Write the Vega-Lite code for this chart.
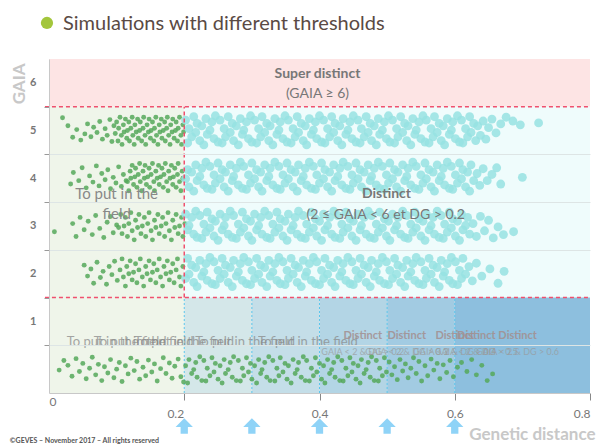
{
"$schema": "https://vega.github.io/schema/vega-lite/v6.json",
"width": 541, "height": 334,
"autosize": "none",
"padding": {"left": 49, "top": 59, "right": 7, "bottom": 51},
"background": "white",
"config": {"view": {"stroke": null}, "font": "Lato"},
"datasets": {
"regions": [
{"x": 0, "x2": 0.8, "y": 5.5, "y2": 6.5, "r": "pink"},
{"x": 0, "x2": 0.2, "y": -0.5, "y2": 5.5, "r": "green"},
{"x": 0.2, "x2": 0.8, "y": 1.5, "y2": 5.5, "r": "cyan"},
{"x": 0.2, "x2": 0.3, "y": -0.5, "y2": 1.5, "r": "b1"},
{"x": 0.3, "x2": 0.4, "y": -0.5, "y2": 1.5, "r": "b2"},
{"x": 0.4, "x2": 0.5, "y": -0.5, "y2": 1.5, "r": "b3"},
{"x": 0.5, "x2": 0.6, "y": -0.5, "y2": 1.5, "r": "b4"},
{"x": 0.6, "x2": 0.8, "y": -0.5, "y2": 1.5, "r": "b5"}
],
"cyan": [
{"x":0.202,"y":5.22},{"x":0.205,"y":4.74},{"x":0.207,"y":5.04},{"x":0.211,"y":4.87},{"x":0.214,"y":5.29},{"x":0.217,"y":4.96},{"x":0.219,"y":5.15},{"x":0.223,"y":4.79},{"x":0.226,"y":5.10},{"x":0.229,"y":4.70},{"x":0.232,"y":5.25},{"x":0.234,"y":4.92},{"x":0.238,"y":5.01},{"x":0.241,"y":5.18},{"x":0.244,"y":4.83},{"x":0.246,"y":5.31},{"x":0.250,"y":4.76},
{"x":0.253,"y":5.22},{"x":0.256,"y":4.74},{"x":0.259,"y":5.04},{"x":0.261,"y":4.87},{"x":0.265,"y":5.29},{"x":0.268,"y":4.96},{"x":0.271,"y":5.15},{"x":0.273,"y":4.79},{"x":0.277,"y":5.10},{"x":0.280,"y":4.70},{"x":0.283,"y":5.25},{"x":0.286,"y":4.92},{"x":0.288,"y":5.01},{"x":0.292,"y":5.18},{"x":0.295,"y":4.83},{"x":0.298,"y":5.31},{"x":0.300,"y":4.76},
{"x":0.304,"y":5.22},{"x":0.307,"y":4.74},{"x":0.310,"y":5.04},{"x":0.313,"y":4.87},{"x":0.315,"y":5.29},{"x":0.319,"y":4.96},{"x":0.322,"y":5.15},{"x":0.325,"y":4.79},{"x":0.327,"y":5.10},{"x":0.331,"y":4.70},{"x":0.334,"y":5.25},{"x":0.337,"y":4.92},{"x":0.340,"y":5.01},{"x":0.342,"y":5.18},{"x":0.346,"y":4.83},{"x":0.349,"y":5.31},{"x":0.352,"y":4.76},
{"x":0.354,"y":5.22},{"x":0.358,"y":4.74},{"x":0.361,"y":5.04},{"x":0.364,"y":4.87},{"x":0.367,"y":5.29},{"x":0.369,"y":4.96},{"x":0.373,"y":5.15},{"x":0.376,"y":4.79},{"x":0.379,"y":5.10},{"x":0.381,"y":4.70},{"x":0.385,"y":5.25},{"x":0.388,"y":4.92},{"x":0.391,"y":5.01},{"x":0.394,"y":5.18},{"x":0.396,"y":4.83},{"x":0.400,"y":5.31},{"x":0.403,"y":4.76},
{"x":0.406,"y":5.22},{"x":0.408,"y":4.74},{"x":0.412,"y":5.04},{"x":0.415,"y":4.87},{"x":0.418,"y":5.29},{"x":0.421,"y":4.96},{"x":0.423,"y":5.15},{"x":0.427,"y":4.79},{"x":0.430,"y":5.10},{"x":0.433,"y":4.70},{"x":0.435,"y":5.25},{"x":0.439,"y":4.92},{"x":0.442,"y":5.01},{"x":0.445,"y":5.18},{"x":0.448,"y":4.83},{"x":0.450,"y":5.31},{"x":0.454,"y":4.76},
{"x":0.457,"y":5.22},{"x":0.460,"y":4.74},{"x":0.462,"y":5.04},{"x":0.466,"y":4.87},{"x":0.469,"y":5.29},{"x":0.472,"y":4.96},{"x":0.475,"y":5.15},{"x":0.477,"y":4.79},{"x":0.481,"y":5.10},{"x":0.484,"y":4.70},{"x":0.487,"y":5.25},{"x":0.489,"y":4.92},{"x":0.493,"y":5.01},{"x":0.496,"y":5.18},{"x":0.499,"y":4.83},{"x":0.502,"y":5.31},{"x":0.504,"y":4.76},
{"x":0.508,"y":5.22},{"x":0.511,"y":4.74},{"x":0.514,"y":5.04},{"x":0.516,"y":4.87},{"x":0.520,"y":5.29},{"x":0.523,"y":4.96},{"x":0.526,"y":5.15},{"x":0.529,"y":4.79},{"x":0.531,"y":5.10},{"x":0.535,"y":4.70},{"x":0.538,"y":5.25},{"x":0.541,"y":4.92},{"x":0.543,"y":5.01},{"x":0.547,"y":5.18},{"x":0.550,"y":4.83},{"x":0.553,"y":5.31},{"x":0.556,"y":4.76},
{"x":0.558,"y":5.22},{"x":0.562,"y":4.74},{"x":0.565,"y":5.04},{"x":0.568,"y":4.87},{"x":0.570,"y":5.29},{"x":0.574,"y":4.96},{"x":0.577,"y":5.15},{"x":0.580,"y":4.79},{"x":0.583,"y":5.10},{"x":0.585,"y":4.70},{"x":0.589,"y":5.25},{"x":0.592,"y":4.92},{"x":0.595,"y":5.01},{"x":0.597,"y":5.18},{"x":0.601,"y":4.83},{"x":0.604,"y":5.31},{"x":0.607,"y":4.76},
{"x":0.610,"y":5.22},{"x":0.612,"y":4.74},{"x":0.616,"y":5.04},{"x":0.619,"y":4.87},{"x":0.622,"y":5.29},{"x":0.624,"y":4.96},{"x":0.628,"y":5.15},{"x":0.631,"y":4.79},{"x":0.634,"y":5.10},
{"x":0.638,"y":4.90},{"x":0.642,"y":5.20},{"x":0.646,"y":4.82},{"x":0.650,"y":5.06},{"x":0.655,"y":5.24},{"x":0.661,"y":4.95},{"x":0.668,"y":5.14},{"x":0.676,"y":5.28},{"x":0.686,"y":5.20},{"x":0.697,"y":5.12},{"x":0.724,"y":5.16},

{"x":0.202,"y":3.99},{"x":0.205,"y":4.18},{"x":0.207,"y":3.82},{"x":0.211,"y":4.13},{"x":0.214,"y":3.73},{"x":0.217,"y":4.28},{"x":0.219,"y":3.95},{"x":0.223,"y":4.04},{"x":0.226,"y":4.21},{"x":0.229,"y":3.86},{"x":0.232,"y":4.34},{"x":0.234,"y":3.79},{"x":0.238,"y":4.25},{"x":0.241,"y":3.77},{"x":0.244,"y":4.07},{"x":0.246,"y":3.90},{"x":0.250,"y":4.32},
{"x":0.253,"y":3.99},{"x":0.256,"y":4.18},{"x":0.259,"y":3.82},{"x":0.261,"y":4.13},{"x":0.265,"y":3.73},{"x":0.268,"y":4.28},{"x":0.271,"y":3.95},{"x":0.273,"y":4.04},{"x":0.277,"y":4.21},{"x":0.280,"y":3.86},{"x":0.283,"y":4.34},{"x":0.286,"y":3.79},{"x":0.288,"y":4.25},{"x":0.292,"y":3.77},{"x":0.295,"y":4.07},{"x":0.298,"y":3.90},{"x":0.300,"y":4.32},
{"x":0.304,"y":3.99},{"x":0.307,"y":4.18},{"x":0.310,"y":3.82},{"x":0.313,"y":4.13},{"x":0.315,"y":3.73},{"x":0.319,"y":4.28},{"x":0.322,"y":3.95},{"x":0.325,"y":4.04},{"x":0.327,"y":4.21},{"x":0.331,"y":3.86},{"x":0.334,"y":4.34},{"x":0.337,"y":3.79},{"x":0.340,"y":4.25},{"x":0.342,"y":3.77},{"x":0.346,"y":4.07},{"x":0.349,"y":3.90},{"x":0.352,"y":4.32},
{"x":0.354,"y":3.99},{"x":0.358,"y":4.18},{"x":0.361,"y":3.82},{"x":0.364,"y":4.13},{"x":0.367,"y":3.73},{"x":0.369,"y":4.28},{"x":0.373,"y":3.95},{"x":0.376,"y":4.04},{"x":0.379,"y":4.21},{"x":0.381,"y":3.86},{"x":0.385,"y":4.34},{"x":0.388,"y":3.79},{"x":0.391,"y":4.25},{"x":0.394,"y":3.77},{"x":0.396,"y":4.07},{"x":0.400,"y":3.90},{"x":0.403,"y":4.32},
{"x":0.406,"y":3.99},{"x":0.408,"y":4.18},{"x":0.412,"y":3.82},{"x":0.415,"y":4.13},{"x":0.418,"y":3.73},{"x":0.421,"y":4.28},{"x":0.423,"y":3.95},{"x":0.427,"y":4.04},{"x":0.430,"y":4.21},{"x":0.433,"y":3.86},{"x":0.435,"y":4.34},{"x":0.439,"y":3.79},{"x":0.442,"y":4.25},{"x":0.445,"y":3.77},{"x":0.448,"y":4.07},{"x":0.450,"y":3.90},{"x":0.454,"y":4.32},
{"x":0.457,"y":3.99},{"x":0.460,"y":4.18},{"x":0.462,"y":3.82},{"x":0.466,"y":4.13},{"x":0.469,"y":3.73},{"x":0.472,"y":4.28},{"x":0.475,"y":3.95},{"x":0.477,"y":4.04},{"x":0.481,"y":4.21},{"x":0.484,"y":3.86},{"x":0.487,"y":4.34},{"x":0.489,"y":3.79},{"x":0.493,"y":4.25},{"x":0.496,"y":3.77},{"x":0.499,"y":4.07},{"x":0.502,"y":3.90},{"x":0.504,"y":4.32},
{"x":0.508,"y":3.99},{"x":0.511,"y":4.18},{"x":0.514,"y":3.82},{"x":0.516,"y":4.13},{"x":0.520,"y":3.73},{"x":0.523,"y":4.28},{"x":0.526,"y":3.95},{"x":0.529,"y":4.04},{"x":0.531,"y":4.21},{"x":0.535,"y":3.86},{"x":0.538,"y":4.34},{"x":0.541,"y":3.79},{"x":0.543,"y":4.25},{"x":0.547,"y":3.77},{"x":0.550,"y":4.07},{"x":0.553,"y":3.90},{"x":0.556,"y":4.32},
{"x":0.558,"y":3.99},{"x":0.562,"y":4.18},{"x":0.565,"y":3.82},{"x":0.568,"y":4.13},{"x":0.570,"y":3.73},{"x":0.574,"y":4.28},{"x":0.577,"y":3.95},{"x":0.580,"y":4.04},{"x":0.583,"y":4.21},{"x":0.585,"y":3.86},{"x":0.589,"y":4.34},{"x":0.592,"y":3.79},{"x":0.595,"y":4.25},{"x":0.597,"y":3.77},{"x":0.601,"y":4.07},{"x":0.604,"y":3.90},{"x":0.607,"y":4.32},
{"x":0.610,"y":3.99},{"x":0.612,"y":4.18},{"x":0.616,"y":3.82},{"x":0.619,"y":4.13},{"x":0.622,"y":3.73},{"x":0.624,"y":4.28},{"x":0.628,"y":3.95},
{"x":0.633,"y":4.10},{"x":0.637,"y":3.85},{"x":0.642,"y":4.20},{"x":0.648,"y":3.95},{"x":0.655,"y":4.08},{"x":0.662,"y":4.22},{"x":0.668,"y":3.88},{"x":0.700,"y":4.02},

{"x":0.202,"y":3.25},{"x":0.205,"y":2.92},{"x":0.207,"y":3.01},{"x":0.211,"y":3.18},{"x":0.214,"y":2.83},{"x":0.217,"y":3.31},{"x":0.219,"y":2.76},{"x":0.223,"y":3.22},{"x":0.226,"y":2.74},{"x":0.229,"y":3.04},{"x":0.232,"y":2.87},{"x":0.234,"y":3.29},{"x":0.238,"y":2.96},{"x":0.241,"y":3.15},{"x":0.244,"y":2.79},{"x":0.246,"y":3.10},{"x":0.250,"y":2.70},
{"x":0.253,"y":3.25},{"x":0.256,"y":2.92},{"x":0.259,"y":3.01},{"x":0.261,"y":3.18},{"x":0.265,"y":2.83},{"x":0.268,"y":3.31},{"x":0.271,"y":2.76},{"x":0.273,"y":3.22},{"x":0.277,"y":2.74},{"x":0.280,"y":3.04},{"x":0.283,"y":2.87},{"x":0.286,"y":3.29},{"x":0.288,"y":2.96},{"x":0.292,"y":3.15},{"x":0.295,"y":2.79},{"x":0.298,"y":3.10},{"x":0.300,"y":2.70},
{"x":0.304,"y":3.25},{"x":0.307,"y":2.92},{"x":0.310,"y":3.01},{"x":0.313,"y":3.18},{"x":0.315,"y":2.83},{"x":0.319,"y":3.31},{"x":0.322,"y":2.76},{"x":0.325,"y":3.22},{"x":0.327,"y":2.74},{"x":0.331,"y":3.04},{"x":0.334,"y":2.87},{"x":0.337,"y":3.29},{"x":0.340,"y":2.96},{"x":0.342,"y":3.15},{"x":0.346,"y":2.79},{"x":0.349,"y":3.10},{"x":0.352,"y":2.70},
{"x":0.354,"y":3.25},{"x":0.358,"y":2.92},{"x":0.361,"y":3.01},{"x":0.364,"y":3.18},{"x":0.367,"y":2.83},{"x":0.369,"y":3.31},{"x":0.373,"y":2.76},{"x":0.376,"y":3.22},{"x":0.379,"y":2.74},{"x":0.381,"y":3.04},{"x":0.385,"y":2.87},{"x":0.388,"y":3.29},{"x":0.391,"y":2.96},{"x":0.394,"y":3.15},{"x":0.396,"y":2.79},{"x":0.400,"y":3.10},{"x":0.403,"y":2.70},
{"x":0.406,"y":3.25},{"x":0.408,"y":2.92},{"x":0.412,"y":3.01},{"x":0.415,"y":3.18},{"x":0.418,"y":2.83},{"x":0.421,"y":3.31},{"x":0.423,"y":2.76},{"x":0.427,"y":3.22},{"x":0.430,"y":2.74},{"x":0.433,"y":3.04},{"x":0.435,"y":2.87},{"x":0.439,"y":3.29},{"x":0.442,"y":2.96},{"x":0.445,"y":3.15},{"x":0.448,"y":2.79},{"x":0.450,"y":3.10},{"x":0.454,"y":2.70},
{"x":0.457,"y":3.25},{"x":0.460,"y":2.92},{"x":0.462,"y":3.01},{"x":0.466,"y":3.18},{"x":0.469,"y":2.83},{"x":0.472,"y":3.31},{"x":0.475,"y":2.76},{"x":0.477,"y":3.22},{"x":0.481,"y":2.74},{"x":0.484,"y":3.04},{"x":0.487,"y":2.87},{"x":0.489,"y":3.29},{"x":0.493,"y":2.96},{"x":0.496,"y":3.15},{"x":0.499,"y":2.79},{"x":0.502,"y":3.10},{"x":0.504,"y":2.70},
{"x":0.508,"y":3.25},{"x":0.511,"y":2.92},{"x":0.514,"y":3.01},{"x":0.516,"y":3.18},{"x":0.520,"y":2.83},{"x":0.523,"y":3.31},{"x":0.526,"y":2.76},{"x":0.529,"y":3.22},{"x":0.531,"y":2.74},{"x":0.535,"y":3.04},{"x":0.538,"y":2.87},{"x":0.541,"y":3.29},{"x":0.543,"y":2.96},{"x":0.547,"y":3.15},{"x":0.550,"y":2.79},{"x":0.553,"y":3.10},{"x":0.556,"y":2.70},
{"x":0.558,"y":3.25},{"x":0.562,"y":2.92},{"x":0.565,"y":3.01},{"x":0.568,"y":3.18},{"x":0.570,"y":2.83},{"x":0.574,"y":3.31},{"x":0.577,"y":2.76},{"x":0.580,"y":3.22},{"x":0.583,"y":2.74},{"x":0.585,"y":3.04},{"x":0.589,"y":2.87},{"x":0.592,"y":3.29},{"x":0.595,"y":2.96},{"x":0.597,"y":3.15},{"x":0.601,"y":2.79},{"x":0.604,"y":3.10},{"x":0.607,"y":2.70},
{"x":0.610,"y":3.25},{"x":0.612,"y":2.92},{"x":0.616,"y":3.01},{"x":0.619,"y":3.18},{"x":0.622,"y":2.83},
{"x":0.627,"y":3.05},{"x":0.632,"y":2.78},{"x":0.638,"y":3.20},{"x":0.644,"y":2.90},{"x":0.650,"y":3.12},{"x":0.657,"y":2.75},{"x":0.664,"y":2.98},{"x":0.672,"y":2.82},{"x":0.687,"y":2.88},

{"x":0.202,"y":1.90},{"x":0.205,"y":2.32},{"x":0.207,"y":1.99},{"x":0.211,"y":2.18},{"x":0.214,"y":1.82},{"x":0.217,"y":2.13},{"x":0.219,"y":1.73},{"x":0.223,"y":2.28},{"x":0.226,"y":1.95},{"x":0.229,"y":2.04},{"x":0.232,"y":2.21},{"x":0.234,"y":1.86},{"x":0.238,"y":2.34},{"x":0.241,"y":1.79},{"x":0.244,"y":2.25},{"x":0.246,"y":1.77},{"x":0.250,"y":2.07},
{"x":0.253,"y":1.90},{"x":0.256,"y":2.32},{"x":0.259,"y":1.99},{"x":0.261,"y":2.18},{"x":0.265,"y":1.82},{"x":0.268,"y":2.13},{"x":0.271,"y":1.73},{"x":0.273,"y":2.28},{"x":0.277,"y":1.95},{"x":0.280,"y":2.04},{"x":0.283,"y":2.21},{"x":0.286,"y":1.86},{"x":0.288,"y":2.34},{"x":0.292,"y":1.79},{"x":0.295,"y":2.25},{"x":0.298,"y":1.77},{"x":0.300,"y":2.07},
{"x":0.304,"y":1.90},{"x":0.307,"y":2.32},{"x":0.310,"y":1.99},{"x":0.313,"y":2.18},{"x":0.315,"y":1.82},{"x":0.319,"y":2.13},{"x":0.322,"y":1.73},{"x":0.325,"y":2.28},{"x":0.327,"y":1.95},{"x":0.331,"y":2.04},{"x":0.334,"y":2.21},{"x":0.337,"y":1.86},{"x":0.340,"y":2.34},{"x":0.342,"y":1.79},{"x":0.346,"y":2.25},{"x":0.349,"y":1.77},{"x":0.352,"y":2.07},
{"x":0.354,"y":1.90},{"x":0.358,"y":2.32},{"x":0.361,"y":1.99},{"x":0.364,"y":2.18},{"x":0.367,"y":1.82},{"x":0.369,"y":2.13},{"x":0.373,"y":1.73},{"x":0.376,"y":2.28},{"x":0.379,"y":1.95},{"x":0.381,"y":2.04},{"x":0.385,"y":2.21},{"x":0.388,"y":1.86},{"x":0.391,"y":2.34},{"x":0.394,"y":1.79},{"x":0.396,"y":2.25},{"x":0.400,"y":1.77},{"x":0.403,"y":2.07},
{"x":0.406,"y":1.90},{"x":0.408,"y":2.32},{"x":0.412,"y":1.99},{"x":0.415,"y":2.18},{"x":0.418,"y":1.82},{"x":0.421,"y":2.13},{"x":0.423,"y":1.73},{"x":0.427,"y":2.28},{"x":0.430,"y":1.95},{"x":0.433,"y":2.04},{"x":0.435,"y":2.21},{"x":0.439,"y":1.86},{"x":0.442,"y":2.34},{"x":0.445,"y":1.79},{"x":0.448,"y":2.25},{"x":0.450,"y":1.77},{"x":0.454,"y":2.07},
{"x":0.457,"y":1.90},{"x":0.460,"y":2.32},{"x":0.462,"y":1.99},{"x":0.466,"y":2.18},{"x":0.469,"y":1.82},{"x":0.472,"y":2.13},{"x":0.475,"y":1.73},{"x":0.477,"y":2.28},{"x":0.481,"y":1.95},{"x":0.484,"y":2.04},{"x":0.487,"y":2.21},{"x":0.489,"y":1.86},{"x":0.493,"y":2.34},{"x":0.496,"y":1.79},{"x":0.499,"y":2.25},{"x":0.502,"y":1.77},{"x":0.504,"y":2.07},
{"x":0.508,"y":1.90},{"x":0.511,"y":2.32},{"x":0.514,"y":1.99},{"x":0.516,"y":2.18},{"x":0.520,"y":1.82},{"x":0.523,"y":2.13},{"x":0.526,"y":1.73},{"x":0.529,"y":2.28},{"x":0.531,"y":1.95},{"x":0.535,"y":2.04},{"x":0.538,"y":2.21},{"x":0.541,"y":1.86},{"x":0.543,"y":2.34},{"x":0.547,"y":1.79},{"x":0.550,"y":2.25},{"x":0.553,"y":1.77},{"x":0.556,"y":2.07},
{"x":0.558,"y":1.90},{"x":0.562,"y":2.32},{"x":0.565,"y":1.99},{"x":0.568,"y":2.18},{"x":0.570,"y":1.82},{"x":0.574,"y":2.13},{"x":0.577,"y":1.73},{"x":0.580,"y":2.28},{"x":0.583,"y":1.95},{"x":0.585,"y":2.04},{"x":0.589,"y":2.21},{"x":0.592,"y":1.86},{"x":0.595,"y":2.34},{"x":0.597,"y":1.79},{"x":0.601,"y":2.25},{"x":0.604,"y":1.77},{"x":0.607,"y":2.07},
{"x":0.610,"y":1.90},{"x":0.612,"y":2.32},{"x":0.616,"y":1.99},
{"x":0.621,"y":2.15},{"x":0.626,"y":1.85},{"x":0.632,"y":2.22},{"x":0.640,"y":1.95},{"x":0.652,"y":2.10},{"x":0.664,"y":1.80},{"x":0.673,"y":2.05}
],
"green": [
{"x":0.020,"y":5.27},{"x":0.028,"y":5.10},{"x":0.035,"y":4.86},{"x":0.041,"y":5.02},{"x":0.047,"y":4.80},{"x":0.053,"y":4.93},{"x":0.057,"y":5.14},{"x":0.062,"y":4.87},{"x":0.066,"y":5.07},{"x":0.071,"y":4.96},{"x":0.075,"y":5.19},{"x":0.079,"y":4.82},{"x":0.083,"y":5.04},{"x":0.086,"y":4.90},{"x":0.090,"y":5.23},{"x":0.093,"y":4.77},{"x":0.096,"y":5.10},{"x":0.098,"y":4.94},
{"x":0.100,"y":5.18},{"x":0.102,"y":4.78},{"x":0.103,"y":5.05},{"x":0.105,"y":5.28},{"x":0.107,"y":4.90},{"x":0.108,"y":4.71},{"x":0.110,"y":5.12},{"x":0.111,"y":4.97},{"x":0.113,"y":5.24},{"x":0.115,"y":4.84},{"x":0.116,"y":5.00},
{"x":0.118,"y":5.18},{"x":0.119,"y":4.78},{"x":0.121,"y":5.05},{"x":0.123,"y":5.28},{"x":0.124,"y":4.90},{"x":0.126,"y":4.71},{"x":0.127,"y":5.12},{"x":0.129,"y":4.97},{"x":0.131,"y":5.24},{"x":0.132,"y":4.84},{"x":0.134,"y":5.00},
{"x":0.135,"y":5.18},{"x":0.137,"y":4.78},{"x":0.139,"y":5.05},{"x":0.140,"y":5.28},{"x":0.142,"y":4.90},{"x":0.143,"y":4.71},{"x":0.145,"y":5.12},{"x":0.147,"y":4.97},{"x":0.148,"y":5.24},{"x":0.150,"y":4.84},{"x":0.151,"y":5.00},
{"x":0.153,"y":5.18},{"x":0.155,"y":4.78},{"x":0.156,"y":5.05},{"x":0.158,"y":5.28},{"x":0.159,"y":4.90},{"x":0.161,"y":4.71},{"x":0.163,"y":5.12},{"x":0.164,"y":4.97},{"x":0.166,"y":5.24},{"x":0.167,"y":4.84},{"x":0.169,"y":5.00},
{"x":0.171,"y":5.18},{"x":0.172,"y":4.78},{"x":0.174,"y":5.05},{"x":0.175,"y":5.28},{"x":0.177,"y":4.90},{"x":0.179,"y":4.71},{"x":0.180,"y":5.12},{"x":0.182,"y":4.97},{"x":0.183,"y":5.24},{"x":0.185,"y":4.84},{"x":0.187,"y":5.00},
{"x":0.188,"y":5.18},{"x":0.190,"y":4.78},{"x":0.191,"y":5.05},{"x":0.193,"y":5.28},{"x":0.195,"y":4.90},{"x":0.196,"y":4.71},{"x":0.198,"y":5.12},{"x":0.199,"y":4.97},

{"x":0.032,"y":3.88},{"x":0.036,"y":4.12},{"x":0.044,"y":3.95},{"x":0.049,"y":4.22},{"x":0.055,"y":3.80},{"x":0.060,"y":4.05},{"x":0.065,"y":3.92},{"x":0.070,"y":4.26},{"x":0.074,"y":3.84},{"x":0.078,"y":4.10},{"x":0.083,"y":3.97},{"x":0.087,"y":4.18},{"x":0.091,"y":3.78},{"x":0.095,"y":4.02},{"x":0.099,"y":3.90},{"x":0.103,"y":4.24},{"x":0.107,"y":3.83},{"x":0.110,"y":4.08},{"x":0.114,"y":3.95},
{"x":0.116,"y":3.93},{"x":0.118,"y":3.74},{"x":0.120,"y":4.15},{"x":0.121,"y":4.00},{"x":0.123,"y":4.27},{"x":0.125,"y":3.87},{"x":0.127,"y":4.03},{"x":0.128,"y":4.21},{"x":0.130,"y":3.81},{"x":0.132,"y":4.08},{"x":0.134,"y":4.31},
{"x":0.135,"y":3.93},{"x":0.137,"y":3.74},{"x":0.139,"y":4.15},{"x":0.141,"y":4.00},{"x":0.142,"y":4.27},{"x":0.144,"y":3.87},{"x":0.146,"y":4.03},{"x":0.148,"y":4.21},{"x":0.149,"y":3.81},{"x":0.151,"y":4.08},{"x":0.153,"y":4.31},
{"x":0.155,"y":3.93},{"x":0.156,"y":3.74},{"x":0.158,"y":4.15},{"x":0.160,"y":4.00},{"x":0.162,"y":4.27},{"x":0.163,"y":3.87},{"x":0.165,"y":4.03},{"x":0.167,"y":4.21},{"x":0.169,"y":3.81},{"x":0.170,"y":4.08},{"x":0.172,"y":4.31},
{"x":0.174,"y":3.93},{"x":0.176,"y":3.74},{"x":0.177,"y":4.15},{"x":0.179,"y":4.00},{"x":0.181,"y":4.27},{"x":0.183,"y":3.87},{"x":0.184,"y":4.03},{"x":0.186,"y":4.21},{"x":0.188,"y":3.81},{"x":0.190,"y":4.08},{"x":0.191,"y":4.31},
{"x":0.193,"y":3.93},{"x":0.195,"y":3.74},{"x":0.197,"y":4.15},{"x":0.198,"y":4.00},

{"x":0.008,"y":2.88},{"x":0.035,"y":3.05},{"x":0.040,"y":2.78},{"x":0.046,"y":3.18},{"x":0.052,"y":2.92},{"x":0.058,"y":3.10},{"x":0.064,"y":2.82},{"x":0.069,"y":3.22},{"x":0.075,"y":2.95},{"x":0.081,"y":2.76},{"x":0.086,"y":3.08},{"x":0.091,"y":3.20},{"x":0.095,"y":2.86},{"x":0.100,"y":3.02},
{"x":0.103,"y":2.97},{"x":0.106,"y":3.24},{"x":0.108,"y":2.84},{"x":0.111,"y":3.00},{"x":0.113,"y":3.18},{"x":0.116,"y":2.78},{"x":0.118,"y":3.05},{"x":0.121,"y":3.28},{"x":0.123,"y":2.90},{"x":0.126,"y":2.71},{"x":0.128,"y":3.12},
{"x":0.131,"y":2.97},{"x":0.133,"y":3.24},{"x":0.136,"y":2.84},{"x":0.138,"y":3.00},{"x":0.141,"y":3.18},{"x":0.143,"y":2.78},{"x":0.146,"y":3.05},{"x":0.148,"y":3.28},{"x":0.151,"y":2.90},{"x":0.153,"y":2.71},{"x":0.156,"y":3.12},
{"x":0.158,"y":2.97},{"x":0.161,"y":3.24},{"x":0.163,"y":2.84},{"x":0.166,"y":3.00},{"x":0.168,"y":3.18},{"x":0.171,"y":2.78},{"x":0.173,"y":3.05},{"x":0.176,"y":3.28},{"x":0.178,"y":2.90},{"x":0.181,"y":2.71},{"x":0.183,"y":3.12},
{"x":0.186,"y":2.97},{"x":0.188,"y":3.24},{"x":0.191,"y":2.84},{"x":0.193,"y":3.00},{"x":0.196,"y":3.18},{"x":0.198,"y":2.78},{"x":0.201,"y":3.05},

{"x":0.052,"y":2.18},{"x":0.057,"y":1.95},{"x":0.062,"y":2.10},{"x":0.066,"y":1.80},{"x":0.071,"y":2.24},{"x":0.076,"y":1.92},{"x":0.080,"y":2.05},{"x":0.085,"y":1.78},{"x":0.089,"y":2.15},{"x":0.093,"y":1.98},{"x":0.097,"y":2.26},{"x":0.101,"y":1.86},
{"x":0.105,"y":2.08},{"x":0.108,"y":2.31},{"x":0.110,"y":1.93},{"x":0.113,"y":1.74},{"x":0.115,"y":2.15},{"x":0.118,"y":2.00},{"x":0.120,"y":2.27},{"x":0.123,"y":1.87},{"x":0.125,"y":2.03},{"x":0.128,"y":2.21},{"x":0.130,"y":1.81},
{"x":0.133,"y":2.08},{"x":0.135,"y":2.31},{"x":0.138,"y":1.93},{"x":0.140,"y":1.74},{"x":0.143,"y":2.15},{"x":0.145,"y":2.00},{"x":0.148,"y":2.27},{"x":0.150,"y":1.87},{"x":0.153,"y":2.03},{"x":0.155,"y":2.21},{"x":0.158,"y":1.81},
{"x":0.160,"y":2.08},{"x":0.163,"y":2.31},{"x":0.165,"y":1.93},{"x":0.168,"y":1.74},{"x":0.170,"y":2.15},{"x":0.173,"y":2.00},{"x":0.175,"y":2.27},{"x":0.178,"y":1.87},{"x":0.180,"y":2.03},{"x":0.183,"y":2.21},{"x":0.185,"y":1.81},
{"x":0.188,"y":2.08},{"x":0.190,"y":2.31},{"x":0.193,"y":1.93},{"x":0.195,"y":1.74},{"x":0.198,"y":2.15},

{"x":0.015,"y":-0.02},{"x":0.022,"y":0.18},{"x":0.028,"y":0.08},{"x":0.034,"y":-0.15},{"x":0.040,"y":0.22},{"x":0.045,"y":-0.05},{"x":0.050,"y":0.12},{"x":0.055,"y":-0.20},{"x":0.060,"y":0.02},{"x":0.064,"y":0.25},{"x":0.069,"y":-0.12},{"x":0.073,"y":0.10},{"x":0.078,"y":-0.24},{"x":0.082,"y":0.05},{"x":0.087,"y":-0.08},{"x":0.091,"y":0.20},{"x":0.096,"y":-0.18},{"x":0.100,"y":0.00},{"x":0.104,"y":0.14},{"x":0.108,"y":-0.26},{"x":0.113,"y":0.07},{"x":0.117,"y":-0.10},{"x":0.121,"y":0.23},{"x":0.126,"y":-0.03},{"x":0.130,"y":0.16},{"x":0.134,"y":-0.21},{"x":0.139,"y":0.04},{"x":0.143,"y":-0.14},{"x":0.147,"y":0.19},{"x":0.152,"y":-0.06},{"x":0.156,"y":0.11},{"x":0.160,"y":-0.25},{"x":0.165,"y":0.01},{"x":0.169,"y":0.24},{"x":0.173,"y":-0.09},{"x":0.178,"y":0.13},{"x":0.182,"y":-0.19},{"x":0.186,"y":0.06},{"x":0.191,"y":0.21},{"x":0.195,"y":-0.16},{"x":0.199,"y":-0.27},
{"x":0.202,"y":0.07},{"x":0.205,"y":-0.29},{"x":0.207,"y":0.20},{"x":0.211,"y":-0.09},{"x":0.214,"y":-0.01},{"x":0.217,"y":0.14},{"x":0.219,"y":-0.17},{"x":0.223,"y":0.26},{"x":0.226,"y":-0.24},{"x":0.229,"y":0.18},{"x":0.232,"y":-0.25},{"x":0.234,"y":0.02},{"x":0.238,"y":-0.14},{"x":0.241,"y":0.24},{"x":0.244,"y":-0.06},{"x":0.246,"y":0.12},{"x":0.250,"y":-0.21},
{"x":0.253,"y":0.07},{"x":0.256,"y":-0.29},{"x":0.259,"y":0.20},{"x":0.261,"y":-0.09},{"x":0.265,"y":-0.01},{"x":0.268,"y":0.14},{"x":0.271,"y":-0.17},{"x":0.273,"y":0.26},{"x":0.277,"y":-0.24},{"x":0.280,"y":0.18},{"x":0.283,"y":-0.25},{"x":0.286,"y":0.02},{"x":0.288,"y":-0.14},{"x":0.292,"y":0.24},{"x":0.295,"y":-0.06},{"x":0.298,"y":0.12},{"x":0.300,"y":-0.21},
{"x":0.304,"y":0.07},{"x":0.307,"y":-0.29},{"x":0.310,"y":0.20},{"x":0.313,"y":-0.09},{"x":0.315,"y":-0.01},{"x":0.319,"y":0.14},{"x":0.322,"y":-0.17},{"x":0.325,"y":0.26},{"x":0.327,"y":-0.24},{"x":0.331,"y":0.18},{"x":0.334,"y":-0.25},{"x":0.337,"y":0.02},{"x":0.340,"y":-0.14},{"x":0.342,"y":0.24},{"x":0.346,"y":-0.06},{"x":0.349,"y":0.12},{"x":0.352,"y":-0.21},
{"x":0.354,"y":0.07},{"x":0.358,"y":-0.29},{"x":0.361,"y":0.20},{"x":0.364,"y":-0.09},{"x":0.367,"y":-0.01},{"x":0.369,"y":0.14},{"x":0.373,"y":-0.17},{"x":0.376,"y":0.26},{"x":0.379,"y":-0.24},{"x":0.381,"y":0.18},{"x":0.385,"y":-0.25},{"x":0.388,"y":0.02},{"x":0.391,"y":-0.14},{"x":0.394,"y":0.24},{"x":0.396,"y":-0.06},{"x":0.400,"y":0.12},{"x":0.403,"y":-0.21},
{"x":0.406,"y":0.07},{"x":0.408,"y":-0.29},{"x":0.412,"y":0.20},{"x":0.415,"y":-0.09},{"x":0.418,"y":-0.01},{"x":0.421,"y":0.14},{"x":0.423,"y":-0.17},{"x":0.427,"y":0.26},{"x":0.430,"y":-0.24},{"x":0.433,"y":0.18},{"x":0.435,"y":-0.25},{"x":0.439,"y":0.02},{"x":0.442,"y":-0.14},{"x":0.445,"y":0.24},{"x":0.448,"y":-0.06},{"x":0.450,"y":0.12},{"x":0.454,"y":-0.21},
{"x":0.457,"y":0.07},{"x":0.460,"y":-0.29},{"x":0.462,"y":0.20},{"x":0.466,"y":-0.09},{"x":0.469,"y":-0.01},{"x":0.472,"y":0.14},{"x":0.475,"y":-0.17},{"x":0.477,"y":0.26},{"x":0.481,"y":-0.24},{"x":0.484,"y":0.18},{"x":0.487,"y":-0.25},{"x":0.489,"y":0.02},{"x":0.493,"y":-0.14},{"x":0.496,"y":0.24},{"x":0.499,"y":-0.06},
{"x":0.503,"y":0.15},{"x":0.507,"y":-0.12},{"x":0.511,"y":0.05},{"x":0.515,"y":-0.22},{"x":0.519,"y":0.20},{"x":0.523,"y":-0.04},{"x":0.527,"y":0.11},{"x":0.531,"y":-0.18},{"x":0.535,"y":0.02},{"x":0.539,"y":0.24},{"x":0.543,"y":-0.09},{"x":0.547,"y":0.16},{"x":0.551,"y":-0.25},{"x":0.556,"y":0.07},{"x":0.560,"y":-0.14},{"x":0.565,"y":0.21},{"x":0.569,"y":-0.02},{"x":0.574,"y":0.12},{"x":0.578,"y":-0.20},{"x":0.583,"y":0.09},{"x":0.588,"y":-0.07},{"x":0.593,"y":0.18},{"x":0.598,"y":-0.16},{"x":0.604,"y":0.04},
{"x":0.610,"y":0.14},{"x":0.618,"y":-0.05},{"x":0.625,"y":0.20},{"x":0.632,"y":-0.12},{"x":0.640,"y":0.08},{"x":0.648,"y":-0.24},{"x":0.656,"y":-0.10}
]
},
"layer": [
{
"data": {"name": "regions"},
"mark": {"type": "rect"},
"encoding": {
"x": {"field": "x", "type": "quantitative", "scale": {"domain": [0, 0.8], "nice": false, "zero": false},
 "axis": {"values": [0, 0.2, 0.4, 0.6, 0.8], "labelExpr": "datum.value == 0 ? '0' : format(datum.value, '.1f')",
  "title": "Genetic distance", "titleColor": "#c8c8c8", "titleFontSize": 17, "titleFontWeight": "bold", "titleX": 546, "titleY": 41, "titleAlign": "right", "titleBaseline": "middle",
  "labelColor": "#777777", "labelFontSize": 12,
  "labelPadding": {"condition": {"test": "datum.value == 0", "value": -4}, "value": 8},
  "labelOffset": {"condition": {"test": "datum.value < 0.3 && datum.value > 0.1", "value": -9}, "value": 0},
  "tickColor": "#888888", "tickSize": 7, "tickOpacity": {"condition": {"test": "datum.value == 0", "value": 0}, "value": 1},
  "domainColor": "#c8c8c8", "grid": false, "zindex": 1}},
"x2": {"field": "x2"},
"y": {"field": "y", "type": "quantitative", "scale": {"domain": [-0.5, 6.5], "nice": false, "zero": false},
 "axis": {"values": [0.5, 1.5, 2.5, 3.5, 4.5, 5.5], "labelExpr": "format(datum.value + 0.5, 'd')", "labelOffset": -24,
  "labelColor": "#777777", "labelFontSize": 11, "labelFontWeight": "bold", "labelPadding": 8,
  "tickSize": 5, "tickColor": "#999999", "domainColor": "#c8c8c8",
  "grid": true, "gridColor": "#dde5e5", "gridOpacity": {"condition": {"test": "datum.value == 1.5 || datum.value == 5.5", "value": 0}, "value": 1},
  "title": "GAIA", "titleColor": "#c8c8c8", "titleFontSize": 17, "titleFontWeight": "bold", "titleAngle": -90, "titleX": -30, "titleY": 4, "titleAlign": "right", "titleBaseline": "middle", "zindex": 1}},
"y2": {"field": "y2"},
"color": {"field": "r", "type": "nominal", "legend": null,
 "scale": {"domain": ["pink", "green", "cyan", "b1", "b2", "b3", "b4", "b5"], "range": ["#fde4e4", "#eff5ea", "#effcfc", "#d4e7e9", "#c4dee8", "#b3d5e5", "#a2cbe2", "#8dbfde"]}}
}
},
{
"data": {"values": [{"x": 0.2}, {"x": 0.3}, {"x": 0.4}, {"x": 0.5}, {"x": 0.6}]},
"mark": {"type": "rule", "color": "#5cc6ec", "strokeDash": [2, 2], "strokeWidth": 1},
"encoding": {
"x": {"field": "x", "type": "quantitative", "scale": {"domain": [0, 0.8]}},
"y": {"datum": -0.5, "type": "quantitative", "scale": {"domain": [-0.5, 6.5]}},
"y2": {"datum": 1.5}
}
},
{
"data": {"name": "green"},
"mark": {"type": "circle", "size": 24, "color": "#55a85a", "opacity": 0.85},
"encoding": {
"x": {"field": "x", "type": "quantitative", "scale": {"domain": [0, 0.8]}},
"y": {"field": "y", "type": "quantitative", "scale": {"domain": [-0.5, 6.5]}}
}
},
{
"data": {"name": "cyan"},
"mark": {"type": "circle", "size": 78, "color": "#97e2e2", "opacity": 0.85},
"encoding": {
"x": {"field": "x", "type": "quantitative", "scale": {"domain": [0, 0.8]}},
"y": {"field": "y", "type": "quantitative", "scale": {"domain": [-0.5, 6.5]}}
}
},
{
"data": {"values": [
 {"x": -0.006, "x2": 0.8, "y": 5.5, "y2": 5.5},
 {"x": -0.006, "x2": 0.8, "y": 1.5, "y2": 1.5},
 {"x": 0.2, "x2": 0.2, "y": 1.5, "y2": 5.5}]},
"mark": {"type": "rule", "color": "#f0506e", "strokeDash": [4, 3], "strokeWidth": 1.5},
"encoding": {
"x": {"field": "x", "type": "quantitative", "scale": {"domain": [0, 0.8]}},
"x2": {"field": "x2"},
"y": {"field": "y", "type": "quantitative", "scale": {"domain": [-0.5, 6.5]}},
"y2": {"field": "y2"}
}
},
{
"data": {"values": [{"t": "Super distinct", "x": 0.397, "y": 6.19}, {"t": "Distinct", "x": 0.499, "y": 3.67}]},
"mark": {"type": "text", "fontSize": 14, "fontWeight": "bold", "color": "#777777", "baseline": "middle"},
"encoding": {
"x": {"field": "x", "type": "quantitative", "scale": {"domain": [0, 0.8]}},
"y": {"field": "y", "type": "quantitative", "scale": {"domain": [-0.5, 6.5]}},
"text": {"field": "t"}
}
},
{
"data": {"values": [{"t": "(GAIA ≥ 6)", "x": 0.397, "y": 5.77}, {"t": "(2 ≤ GAIA < 6 et DG > 0.2", "x": 0.498, "y": 3.23}]},
"mark": {"type": "text", "fontSize": 14, "color": "#777777", "baseline": "middle"},
"encoding": {
"x": {"field": "x", "type": "quantitative", "scale": {"domain": [0, 0.8]}},
"y": {"field": "y", "type": "quantitative", "scale": {"domain": [-0.5, 6.5]}},
"text": {"field": "t"}
}
},
{
"data": {"values": [{"t": "To put in the", "x": 0.1, "y": 3.67}, {"t": "field", "x": 0.1, "y": 3.25}]},
"mark": {"type": "text", "fontSize": 15, "color": "#888888", "baseline": "middle"},
"encoding": {
"x": {"field": "x", "type": "quantitative", "scale": {"domain": [0, 0.8]}},
"y": {"field": "y", "type": "quantitative", "scale": {"domain": [-0.5, 6.5]}},
"text": {"field": "t"}
}
},
{
"data": {"values": [
 {"t": "To put in the field", "x": 0.1, "y": 0.57},
 {"t": "To put in the field", "x": 0.14, "y": 0.57},
 {"t": "To put in the field", "x": 0.2, "y": 0.57},
 {"t": "To put in the field", "x": 0.29, "y": 0.57},
 {"t": "To put in the field", "x": 0.383, "y": 0.57}]},
"mark": {"type": "text", "fontSize": 13, "color": "#8a8a8a", "opacity": 0.75, "baseline": "middle"},
"encoding": {
"x": {"field": "x", "type": "quantitative", "scale": {"domain": [0, 0.8]}},
"y": {"field": "y", "type": "quantitative", "scale": {"domain": [-0.5, 6.5]}},
"text": {"field": "t"}
}
},
{
"data": {"values": [
 {"t": "Distinct", "x": 0.464, "y": 0.7},
 {"t": "Distinct", "x": 0.529, "y": 0.7},
 {"t": "Distinct", "x": 0.6, "y": 0.7},
 {"t": "Distinct", "x": 0.632, "y": 0.7},
 {"t": "Distinct", "x": 0.693, "y": 0.7}]},
"mark": {"type": "text", "fontSize": 11, "fontWeight": "bold", "color": "#a38f8f", "opacity": 0.85, "baseline": "middle"},
"encoding": {
"x": {"field": "x", "type": "quantitative", "scale": {"domain": [0, 0.8]}},
"y": {"field": "y", "type": "quantitative", "scale": {"domain": [-0.5, 6.5]}},
"text": {"field": "t"}
}
},
{
"data": {"values": [
 {"t": "GAIA < 2 & DG > 0.2", "x": 0.464, "y": 0.36},
 {"t": "GAIA < 2 & DG > 0.3", "x": 0.529, "y": 0.36},
 {"t": "GAIA < 2 & DG > 0.4", "x": 0.6, "y": 0.36},
 {"t": "GAIA < 2 & DG > 0.5", "x": 0.632, "y": 0.36},
 {"t": "GAIA < 2 & DG > 0.6", "x": 0.693, "y": 0.36}]},
"mark": {"type": "text", "fontSize": 9, "color": "#9a9a9a", "opacity": 0.7, "baseline": "middle"},
"encoding": {
"x": {"field": "x", "type": "quantitative", "scale": {"domain": [0, 0.8]}},
"y": {"field": "y", "type": "quantitative", "scale": {"domain": [-0.5, 6.5]}},
"text": {"field": "t"}
}
},
{
"data": {"values": [{"x": 0.2}, {"x": 0.3}, {"x": 0.4}, {"x": 0.5}, {"x": 0.6}]},
"mark": {"type": "point", "shape": "M0,-1L1,0L0.42,0L0.42,0.8L-0.42,0.8L-0.42,0L-1,0Z", "size": 300, "filled": true, "color": "#8fd3f7", "opacity": 1},
"encoding": {
"x": {"field": "x", "type": "quantitative", "scale": {"domain": [0, 0.8]}},
"y": {"datum": -1.21, "type": "quantitative", "scale": {"domain": [-0.5, 6.5]}}
}
},
{
"data": {"values": [{"k": "bullet"}]},
"mark": {"type": "point", "shape": "circle", "size": 150, "filled": true, "color": "#a3c63c", "opacity": 1},
"encoding": {
"x": {"datum": -0.003, "type": "quantitative", "scale": {"domain": [0, 0.8]}},
"y": {"datum": 7.255, "type": "quantitative", "scale": {"domain": [-0.5, 6.5]}}
}
},
{
"data": {"values": [{"t": "Simulations with different thresholds"}]},
"mark": {"type": "text", "fontSize": 20, "color": "#5a4a44", "align": "left", "baseline": "middle"},
"encoding": {
"x": {"datum": 0.0207, "type": "quantitative", "scale": {"domain": [0, 0.8]}},
"y": {"datum": 7.234, "type": "quantitative", "scale": {"domain": [-0.5, 6.5]}},
"text": {"field": "t"}
}
},
{
"data": {"values": [{"t": "©GEVES – November 2017 – All rights reserved"}]},
"mark": {"type": "text", "fontSize": 7, "fontWeight": "bold", "color": "#555555", "align": "left", "baseline": "middle"},
"encoding": {
"x": {"datum": -0.058, "type": "quantitative", "scale": {"domain": [0, 0.8]}},
"y": {"datum": -1.5, "type": "quantitative", "scale": {"domain": [-0.5, 6.5]}},
"text": {"field": "t"}
}
}
]
}
